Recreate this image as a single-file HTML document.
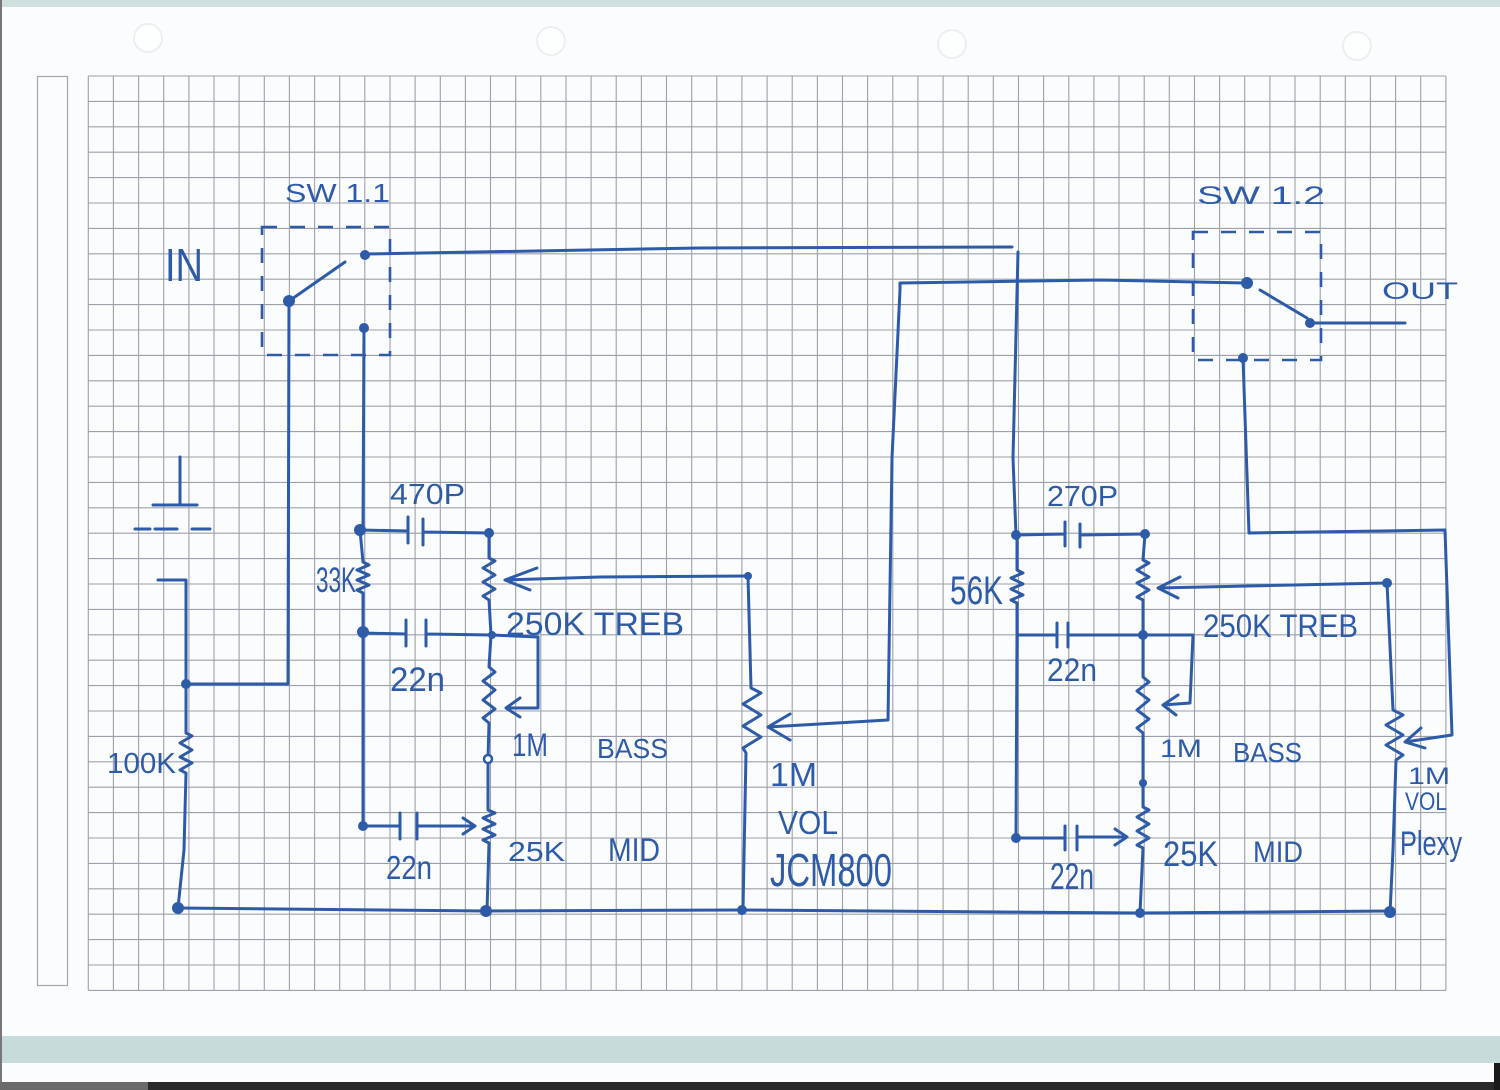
<!DOCTYPE html>
<html><head><meta charset="utf-8"><style>
html,body{margin:0;padding:0;background:#fbfcfd;}
svg{display:block;}
text{font-family:"Liberation Sans",sans-serif;fill:#2e5ba8;}
</style></head><body>
<svg width="1500" height="1090" viewBox="0 0 1500 1090" xmlns="http://www.w3.org/2000/svg">
<rect x="0" y="0" width="1500" height="1090" fill="#fbfcfd"/>
<rect x="0" y="0" width="1500" height="7" fill="#cfe0df"/>
<rect x="0" y="1036" width="1500" height="27" fill="#c6dbda"/>
<rect x="0" y="1082" width="1500" height="8" fill="#2a2a2a"/>
<rect x="0" y="1082" width="148" height="8" fill="#6a6a6a"/>
<rect x="1494" y="1063" width="6" height="27" fill="#1a1a1a"/>
<rect x="0" y="0" width="2" height="1082" fill="#777"/>
<g fill="#fdfefe" stroke="#eceff1" stroke-width="2">
<circle cx="148" cy="38" r="14"/><circle cx="551" cy="41" r="14"/><circle cx="952" cy="44" r="14"/><circle cx="1357" cy="46" r="14"/>
</g>
<rect x="37.5" y="76.5" width="30" height="909" fill="none" stroke="#a3a6ad" stroke-width="1.2"/>
<path fill="none" stroke="#9da0aa" stroke-width="1.1" d="
M88.3,76V990.4 M113.4,76V990.4 M138.6,76V990.4 M163.7,76V990.4 M188.9,76V990.4 M214,76V990.4 M239.1,76V990.4 M264.3,76V990.4 M289.4,76V990.4 M314.6,76V990.4
M339.7,76V990.4 M364.8,76V990.4 M390,76V990.4 M415.1,76V990.4 M440.3,76V990.4 M465.4,76V990.4 M490.5,76V990.4 M515.7,76V990.4 M540.8,76V990.4 M566,76V990.4
M591.1,76V990.4 M616.2,76V990.4 M641.4,76V990.4 M666.5,76V990.4 M691.7,76V990.4 M716.8,76V990.4 M741.9,76V990.4 M767.1,76V990.4 M792.2,76V990.4 M817.4,76V990.4
M842.5,76V990.4 M867.6,76V990.4 M892.8,76V990.4 M917.9,76V990.4 M943.1,76V990.4 M968.2,76V990.4 M993.3,76V990.4 M1018.5,76V990.4 M1043.6,76V990.4 M1068.8,76V990.4
M1093.9,76V990.4 M1119,76V990.4 M1144.2,76V990.4 M1169.3,76V990.4 M1194.5,76V990.4 M1219.6,76V990.4 M1244.7,76V990.4 M1269.9,76V990.4 M1295,76V990.4 M1320.2,76V990.4
M1345.3,76V990.4 M1370.4,76V990.4 M1395.6,76V990.4 M1420.7,76V990.4 M1445.9,76V990.4
M88.3,76H1445.9 M88.3,101.4H1445.9 M88.3,126.8H1445.9 M88.3,152.2H1445.9 M88.3,177.6H1445.9 M88.3,203H1445.9 M88.3,228.4H1445.9 M88.3,253.8H1445.9 M88.3,279.2H1445.9 M88.3,304.6H1445.9
M88.3,330H1445.9 M88.3,355.4H1445.9 M88.3,380.8H1445.9 M88.3,406.2H1445.9 M88.3,431.6H1445.9 M88.3,457H1445.9 M88.3,482.4H1445.9 M88.3,507.8H1445.9 M88.3,533.2H1445.9 M88.3,558.6H1445.9
M88.3,584H1445.9 M88.3,609.4H1445.9 M88.3,634.8H1445.9 M88.3,660.2H1445.9 M88.3,685.6H1445.9 M88.3,711H1445.9 M88.3,736.4H1445.9 M88.3,761.8H1445.9 M88.3,787.2H1445.9 M88.3,812.6H1445.9
M88.3,838H1445.9 M88.3,863.4H1445.9 M88.3,888.8H1445.9 M88.3,914.2H1445.9 M88.3,939.6H1445.9 M88.3,965H1445.9 M88.3,990.4H1445.9"/>

<g fill="none" stroke="#2e5ba8" stroke-width="2.6" stroke-dasharray="15 13">
<path d="M262,227 H390 V355 H262 Z"/>
<path d="M1193,232 H1321 V360 H1193 Z"/>
</g>

<g fill="none" stroke="#2e5ba8" stroke-width="3" stroke-linejoin="round" stroke-linecap="round">
<path d="M365,254 L700,248 L1012,247"/>
<path d="M1018,252 L1013,458 L1016,535"/>
<path d="M768,727 L888,720 L892,458 L900,290 L900,283 L1100,280 L1245,283"/>
<path d="M289,301 L345,262"/>
<path d="M364,328 L363,530"/>
<path d="M289,301 L288,684 L186,684"/>
<path d="M180,457 L180,505 M153,505 L197,505"/>
<path d="M135,529 L150,529 M155,529 L177,529 M192,529 L210,529"/>
<path d="M158,580 L186,580 L186,684"/>
<path d="M186,684 L186,733 L192,736 L180,743 L192,750 L180,757 L192,763 L180,770 L186,773 L184,850 L178,908"/>
<path d="M178,908 L486,911 L742,910 L1140,913 L1390,911"/>
<path d="M360,530 L363,562 L369,565 L357,570 L369,575 L357,580 L369,585 L357,590 L363,593 L363,632 L363,826"/>
<path d="M360,530 L408,531 M408,517 L408,543 M423,519 L423,545 M423,532 L489,533"/>
<path d="M489,533 L489,558 L495,561 L483,568 L495,575 L483,582 L495,589 L483,596 L489,600 L491,635"/>
<path d="M748,576 L600,577 L505,580 M537,568 L505,580 L530,590"/>
<path d="M363,633 L406,634 M406,620 L406,646 M426,620 L426,646 M426,634 L492,635"/>
<path d="M492,635 L538,637 L538,708 L506,708 M520,698 L506,708 L520,717"/>
<path d="M491,635 L489,667 L495,672 L483,681 L495,690 L483,700 L495,709 L483,718 L489,723 L488,759 L488,810 L495,813 L483,818 L495,824 L483,829 L495,835 L483,840 L489,843 L487,911"/>
<path d="M363,826 L400,826 M400,813 L400,839 M417,813 L417,839 M417,826 L475,826 M463,818 L475,826 L463,834"/>
<path d="M748,576 L751,688 L761,693 L743,704 L761,715 L743,726 L761,737 L743,748 L746,753 L743,910"/>
<path d="M790,714 L768,727 L790,740"/>
<path d="M1016,535 L1065,534 M1065,522 L1065,546 M1080,524 L1080,547 M1080,535 L1145,534"/>
<path d="M1145,534 L1143,560 L1149,563 L1137,570 L1149,577 L1137,583 L1149,590 L1137,597 L1143,600 L1143,635"/>
<path d="M1387,583 L1158,588 M1180,577 L1158,588 L1178,598"/>
<path d="M1017,535 L1017,570 L1023,573 L1011,578 L1023,584 L1011,589 L1023,595 L1011,600 L1017,603 L1017,635 L1016,838"/>
<path d="M1017,635 L1057,635 M1057,623 L1057,647 M1068,623 L1068,647 M1068,635 L1143,635"/>
<path d="M1143,635 L1193,635 L1190,703 L1163,705 M1178,695 L1163,705 L1176,715"/>
<path d="M1143,635 L1143,677 L1149,682 L1137,691 L1149,700 L1137,710 L1149,719 L1137,728 L1143,733 L1143,783 L1143,807 L1149,810 L1137,817 L1149,824 L1137,831 L1149,838 L1137,845 L1143,848 L1140,913"/>
<path d="M1016,838 L1065,838 M1065,826 L1065,850 M1077,826 L1077,850 M1077,837 L1127,837 M1115,829 L1127,837 L1115,845"/>
<path d="M1387,583 L1393,710 L1403,715 L1386,725 L1403,735 L1386,745 L1403,755 L1396,760 L1393,850 L1390,913"/>
<path d="M1243,358 L1249,533 L1445,530 L1452,735 L1405,742 M1421,728 L1405,742 L1425,748"/>
<path d="M1260,290 L1307,318"/>
<path d="M1315,323 L1405,323"/>
</g>

<g fill="#2e5ba8">
<circle cx="365" cy="255" r="5"/><circle cx="289" cy="301" r="6"/><circle cx="364" cy="328" r="5"/>
<circle cx="360" cy="530" r="6"/><circle cx="489" cy="533" r="5"/><circle cx="363" cy="632" r="6"/>
<circle cx="492" cy="635" r="4"/><circle cx="363" cy="826" r="5"/><circle cx="486" cy="911" r="6"/>
<circle cx="742" cy="910" r="5"/><circle cx="748" cy="576" r="4"/><circle cx="186" cy="684" r="5"/>
<circle cx="178" cy="908" r="6"/>
<circle cx="1016" cy="535" r="5"/><circle cx="1145" cy="534" r="5"/><circle cx="1143" cy="635" r="5"/>
<circle cx="1387" cy="583" r="5"/><circle cx="1016" cy="838" r="5"/><circle cx="1140" cy="913" r="5"/>
<circle cx="1390" cy="912" r="6"/><circle cx="1143" cy="783" r="4"/>
<circle cx="1247" cy="283" r="6"/><circle cx="1310" cy="323" r="5"/><circle cx="1243" cy="358" r="5"/>
</g>
<circle cx="488" cy="759" r="4" fill="#fbfcfd" stroke="#2e5ba8" stroke-width="2.5"/>

<text x="285" y="202" font-size="26" textLength="105" lengthAdjust="spacingAndGlyphs">SW 1.1</text>
<text x="165" y="281" font-size="46" textLength="38" lengthAdjust="spacingAndGlyphs">IN</text>
<text x="1197" y="204" font-size="25" textLength="128" lengthAdjust="spacingAndGlyphs">SW 1.2</text>
<text x="1382" y="299" font-size="24" textLength="76" lengthAdjust="spacingAndGlyphs">OUT</text>
<text x="390" y="504" font-size="29" textLength="75" lengthAdjust="spacingAndGlyphs">470P</text>
<text x="316" y="592" font-size="35" textLength="40" lengthAdjust="spacingAndGlyphs">33K</text>
<text x="390" y="691" font-size="34" textLength="55" lengthAdjust="spacingAndGlyphs">22n</text>
<text x="506" y="635" font-size="32" textLength="178" lengthAdjust="spacingAndGlyphs">250K TREB</text>
<text x="512" y="756" font-size="32" textLength="36" lengthAdjust="spacingAndGlyphs">1M</text>
<text x="597" y="758" font-size="28" textLength="71" lengthAdjust="spacingAndGlyphs">BASS</text>
<text x="508" y="861" font-size="28" textLength="57" lengthAdjust="spacingAndGlyphs">25K</text>
<text x="608" y="861" font-size="32" textLength="52" lengthAdjust="spacingAndGlyphs">MID</text>
<text x="386" y="879" font-size="33" textLength="46" lengthAdjust="spacingAndGlyphs">22n</text>
<text x="107" y="773" font-size="29" textLength="69" lengthAdjust="spacingAndGlyphs">100K</text>
<text x="770" y="786" font-size="33" textLength="47" lengthAdjust="spacingAndGlyphs">1M</text>
<text x="778" y="834" font-size="33" textLength="60" lengthAdjust="spacingAndGlyphs">VOL</text>
<text x="770" y="886" font-size="46" textLength="122" lengthAdjust="spacingAndGlyphs">JCM800</text>
<text x="1047" y="506" font-size="29" textLength="71" lengthAdjust="spacingAndGlyphs">270P</text>
<text x="950" y="604" font-size="40" textLength="53" lengthAdjust="spacingAndGlyphs">56K</text>
<text x="1047" y="681" font-size="32" textLength="50" lengthAdjust="spacingAndGlyphs">22n</text>
<text x="1050" y="889" font-size="37" textLength="44" lengthAdjust="spacingAndGlyphs">22n</text>
<text x="1203" y="637" font-size="32" textLength="155" lengthAdjust="spacingAndGlyphs">250K TREB</text>
<text x="1160" y="757" font-size="25" textLength="42" lengthAdjust="spacingAndGlyphs">1M</text>
<text x="1233" y="762" font-size="28" textLength="69" lengthAdjust="spacingAndGlyphs">BASS</text>
<text x="1163" y="866" font-size="35" textLength="55" lengthAdjust="spacingAndGlyphs">25K</text>
<text x="1253" y="862" font-size="30" textLength="50" lengthAdjust="spacingAndGlyphs">MID</text>
<text x="1408" y="784" font-size="24" textLength="42" lengthAdjust="spacingAndGlyphs">1M</text>
<text x="1405" y="810" font-size="25" textLength="42" lengthAdjust="spacingAndGlyphs">VOL</text>
<text x="1400" y="855" font-size="34" textLength="62" lengthAdjust="spacingAndGlyphs">Plexy</text>
</svg>
</body></html>
